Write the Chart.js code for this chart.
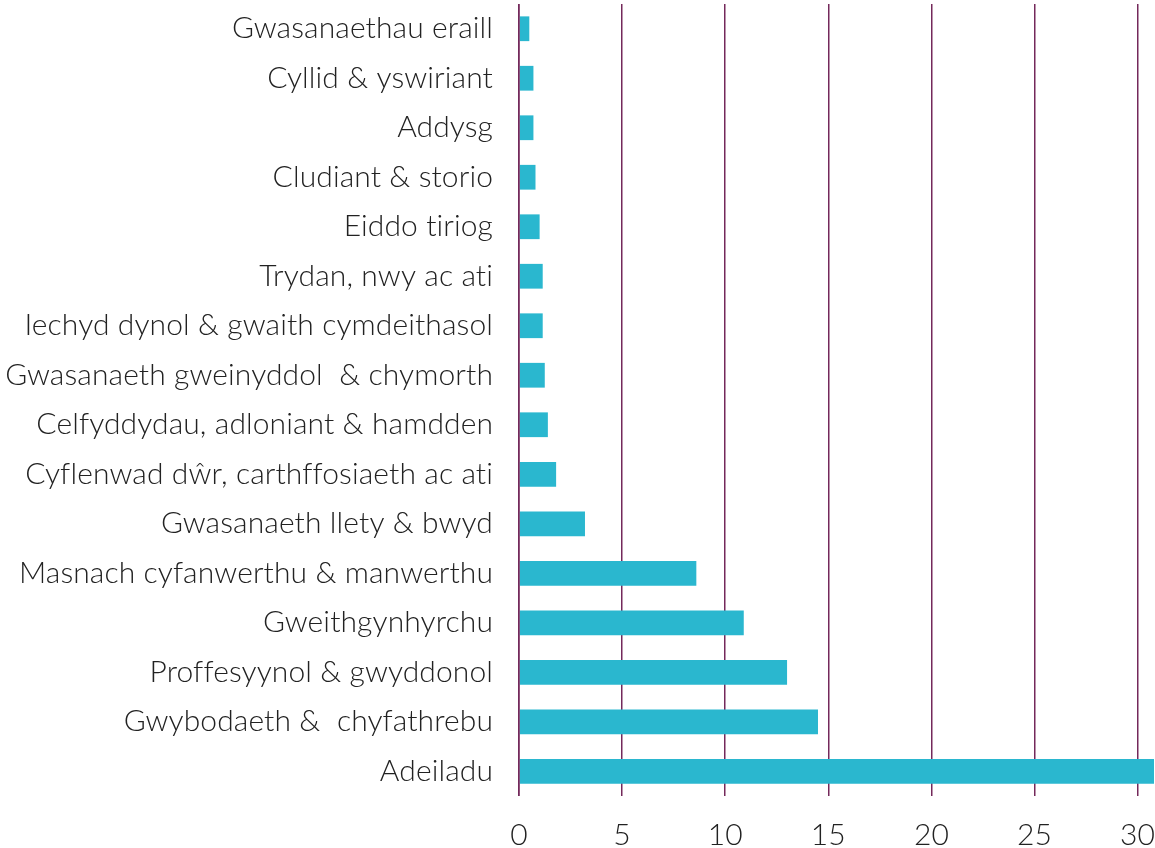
<!DOCTYPE html>
<html>
<head>
<meta charset="utf-8">
<script src="https://cdn.jsdelivr.net/npm/chart.js@4.4.1/dist/chart.umd.min.js"></script>
<style>
  html, body { margin: 0; padding: 0; background: #fff; }
  #wrap { width: 1155px; height: 848px; position: relative; }
</style>
</head>
<body>
<div id="wrap"><canvas id="myChart"></canvas></div>
<script>
// categories, top to bottom
var categories = [
    "Gwasanaethau eraill",
    "Cyllid & yswiriant",
    "Addysg",
    "Cludiant & storio",
    "Eiddo tiriog",
    "Trydan, nwy ac ati",
    "Iechyd dynol & gwaith cymdeithasol",
    "Gwasanaeth gweinyddol  & chymorth",
    "Celfyddydau, adloniant & hamdden",
    "Cyflenwad dŵr, carthffosiaeth ac ati",
    "Gwasanaeth llety & bwyd",
    "Masnach cyfanwerthu & manwerthu",
    "Gweithgynhyrchu",
    "Proffesyynol & gwyddonol",
    "Gwybodaeth &  chyfathrebu",
    "Adeiladu"
];

// values
var values = [0.5, 0.7, 0.7, 0.8, 1.0, 1.15, 1.15, 1.25, 1.4, 1.8, 3.2, 8.6, 10.9, 13.0, 14.5, 33];

var xTicks = [0, 5, 10, 15, 20, 25, 30];

var barColor = "#2ab7cf";
var gridColor = "#74295b";
var textColor = "#222222";
var fontFamily = "Lato, 'Open Sans', sans-serif";

// tiny letter spacing so Lato's "ti" ligature is not used
var noLigatures = {
    id: "noLigatures",
    beforeDraw: function(chart) {
        chart.ctx.letterSpacing = "0.1px";
    }
};

// zero line sits on top of the bars
var zeroLine = {
    id: "zeroLine",
    afterDatasetsDraw: function(chart) {
        var ctx = chart.ctx;
        var x = chart.scales.x.getPixelForValue(0);
        ctx.save();
        ctx.strokeStyle = "rgba(116, 41, 91, 0.6)";
        ctx.lineWidth = 2;
        ctx.beginPath();
        ctx.moveTo(x, chart.chartArea.top);
        ctx.lineTo(x, chart.chartArea.bottom);
        ctx.stroke();
        ctx.restore();
    }
};

var ctx = document.getElementById("myChart").getContext("2d");
var myChart = new Chart(ctx, {
    type: "bar",
    data: {
        labels: categories,
        datasets: [{
            data: values,
            backgroundColor: barColor,
            borderWidth: 0,
            barPercentage: 0.5,
            categoryPercentage: 1.0
        }]
    },
    options: {
        indexAxis: "y",
        responsive: true,
        maintainAspectRatio: false,
        animation: false,
        layout: { padding: { top: 4, right: 0, bottom: 0, left: 0 } },
        plugins: {
            legend: { display: false },
            tooltip: { enabled: false }
        },
        scales: {
            x: {
                min: 0,
                max: 30.8,
                afterBuildTicks: function(scale) {
                    scale.ticks = xTicks.map(function(v) { return { value: v }; });
                },
                afterFit: function(scale) { scale.height = 52; },
                grid: {
                    color: gridColor,
                    lineWidth: 1.5,
                    drawTicks: true,
                    tickLength: 24,
                    tickColor: "rgba(0,0,0,0)"
                },
                border: { display: false },
                ticks: {
                    color: textColor,
                    padding: 0,
                    maxRotation: 0,
                    font: { family: fontFamily, size: 30, weight: 300, lineHeight: 1.0 }
                }
            },
            y: {
                afterFit: function(scale) { scale.width = 519; },
                grid: { display: false, drawTicks: true, tickLength: 26 },
                border: { display: false },
                ticks: {
                    color: textColor,
                    padding: 0,
                    autoSkip: false,
                    font: { family: fontFamily, size: 30, weight: 300, lineHeight: 0.25 }
                }
            }
        }
    },
    plugins: [noLigatures, zeroLine]
});
</script>
</body>
</html>
